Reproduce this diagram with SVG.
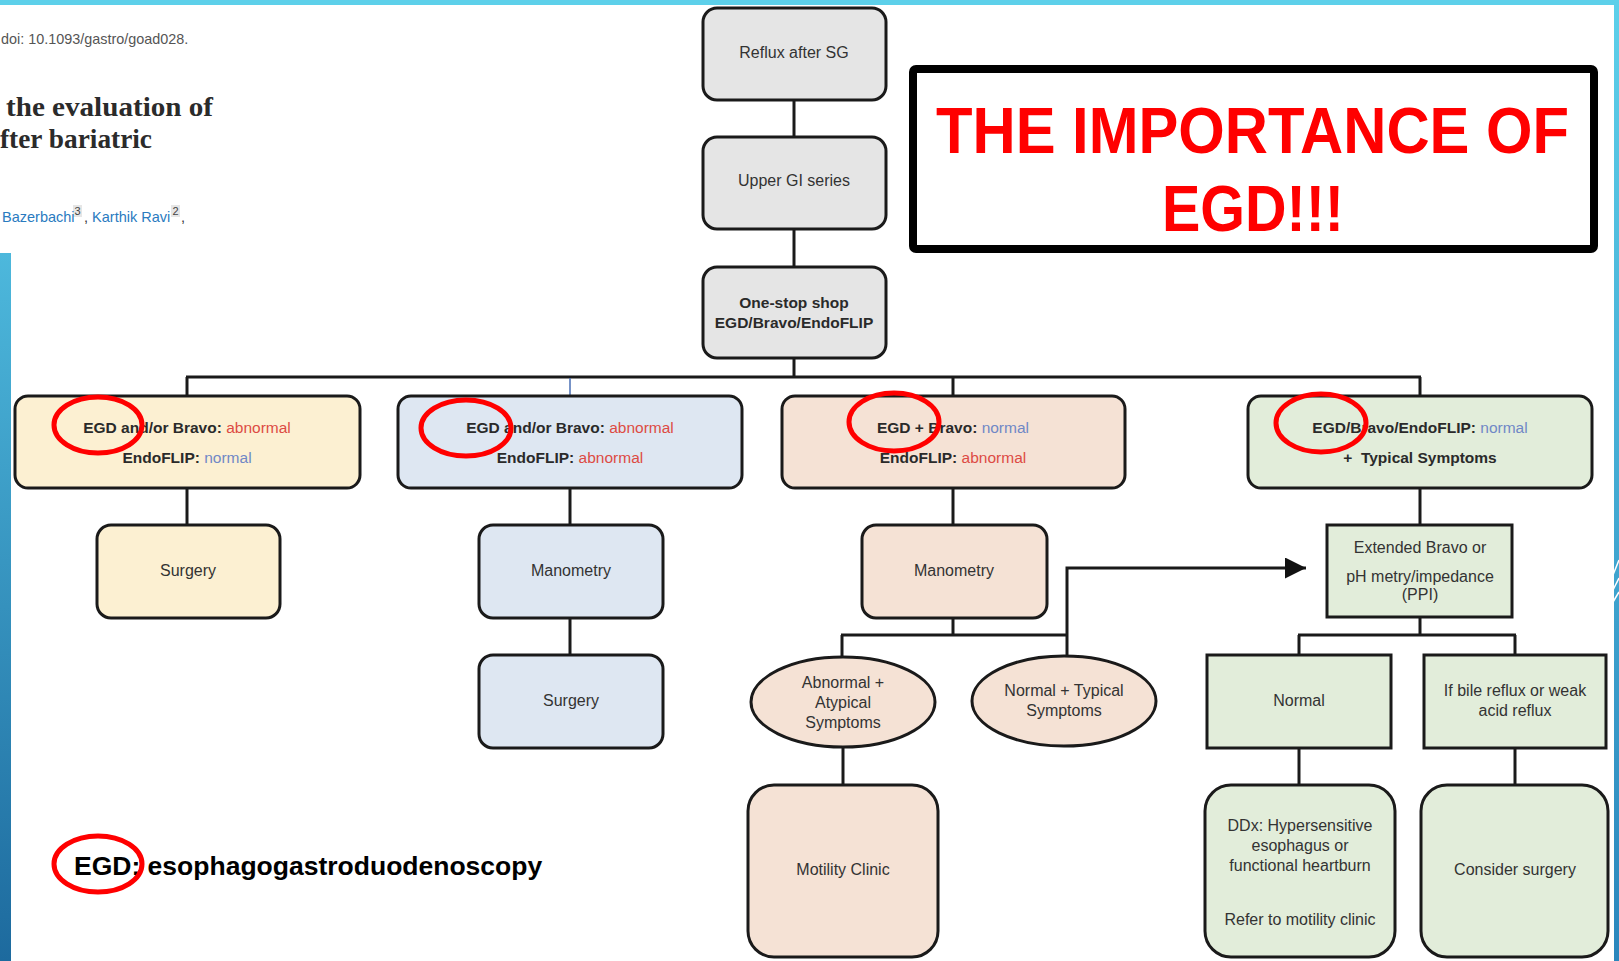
<svg xmlns="http://www.w3.org/2000/svg" width="1619" height="961" viewBox="0 0 1619 961">
<defs>
<linearGradient id="gl" x1="0" y1="0" x2="0" y2="1"><stop offset="0" stop-color="#4DB8DC"/><stop offset="1" stop-color="#1D6A9E"/></linearGradient>
<linearGradient id="gr" x1="0" y1="0" x2="0" y2="1"><stop offset="0" stop-color="#5DD0EA"/><stop offset="1" stop-color="#2A86BC"/></linearGradient>
<marker id="ah" markerWidth="7" markerHeight="7" refX="7" refY="3.5" orient="auto" markerUnits="strokeWidth"><path d="M0,0 L7,3.5 L0,7 Z" fill="#111"/></marker>
<style>
.b{stroke:#1a1a1a;stroke-width:3;}
.gray{fill:#E5E5E5;}
.yel{fill:#FCF0D2;}
.blu{fill:#DEE7F2;}
.pch{fill:#F5E2D5;}
.grn{fill:#E2EDDA;}
.t{font-family:"Liberation Sans",Arial,sans-serif;font-size:16px;fill:#333;text-anchor:middle;}
.tb{font-family:"Liberation Sans",Arial,sans-serif;font-size:15.5px;font-weight:bold;fill:#2a2a2a;text-anchor:middle;}
.red{fill:#DD4B44;font-weight:normal;}
.bl{fill:#7088C6;font-weight:normal;}
.ln{stroke:#1a1a1a;stroke-width:3;fill:none;}
.rc{fill:none;stroke:#FF0000;stroke-width:5;}
</style>
</defs>
<rect width="1619" height="961" fill="#FFFFFF"/>
<rect x="0" y="0" width="1619" height="5" fill="#5DD0EA"/>
<rect x="1614" y="0" width="5" height="961" fill="url(#gr)"/>
<g stroke="#FFFFFF" stroke-width="1.5"><line x1="1613" y1="575" x2="1619" y2="560"/><line x1="1613" y1="590" x2="1619" y2="578"/><line x1="1613" y1="602" x2="1619" y2="592"/></g>
<rect x="0" y="253" width="11" height="708" fill="url(#gl)"/>

<g id="header">
<text x="1" y="44" font-family="Liberation Sans,Arial,sans-serif" font-size="14.4" fill="#555">doi: 10.1093/gastro/goad028.</text>
<text x="6" y="116" font-family="Liberation Serif,Times New Roman,serif" font-size="28" font-weight="bold" fill="#2b2b2b" textLength="207" lengthAdjust="spacingAndGlyphs">the evaluation of</text>
<text x="0" y="148" font-family="Liberation Serif,Times New Roman,serif" font-size="28" font-weight="bold" fill="#2b2b2b" textLength="152" lengthAdjust="spacingAndGlyphs">fter bariatric</text>
<rect x="73" y="205" width="9" height="12" fill="#E6E6E6"/>
<rect x="171" y="205" width="9" height="12" fill="#E6E6E6"/>
<text x="2" y="222" font-family="Liberation Sans,Arial,sans-serif" font-size="14.5" fill="#2A7BBF">Bazerbachi<tspan x="74.5" y="215" font-size="11" fill="#444">3</tspan><tspan x="84" y="222" fill="#333">, </tspan><tspan fill="#2A7BBF">Karthik Ravi</tspan><tspan x="172.5" y="215" font-size="11" fill="#444">2</tspan><tspan x="181" y="222" fill="#333">,</tspan></text>
</g>

<g id="title">
<rect x="913" y="69" width="681" height="180" rx="3" fill="#FFFFFF" stroke="#000" stroke-width="8"/>
<text x="936" y="153" font-family="Liberation Sans,Arial,sans-serif" font-size="64" font-weight="bold" fill="#FF0000" textLength="633" lengthAdjust="spacingAndGlyphs">THE IMPORTANCE OF</text>
<text x="1162" y="231" font-family="Liberation Sans,Arial,sans-serif" font-size="64" font-weight="bold" fill="#FF0000" textLength="182" lengthAdjust="spacingAndGlyphs">EGD!!!</text>
</g>

<g id="connectors">
<line class="ln" x1="794" y1="100" x2="794" y2="137"/>
<line class="ln" x1="794" y1="229" x2="794" y2="267"/>
<line class="ln" x1="794" y1="358" x2="794" y2="377"/>
<line class="ln" x1="186" y1="377" x2="1421" y2="377"/>
<line class="ln" x1="187" y1="377" x2="187" y2="396"/>
<line x1="570" y1="378" x2="570" y2="396" stroke="#4A6FB5" stroke-width="1.5"/>
<line class="ln" x1="953" y1="377" x2="953" y2="396"/>
<line class="ln" x1="1420" y1="377" x2="1420" y2="396"/>
<line class="ln" x1="187" y1="488" x2="187" y2="525"/>
<line class="ln" x1="570" y1="488" x2="570" y2="525"/>
<line class="ln" x1="570" y1="618" x2="570" y2="655"/>
<line class="ln" x1="953" y1="488" x2="953" y2="525"/>
<line class="ln" x1="953" y1="618" x2="953" y2="635"/>
<line class="ln" x1="841" y1="635" x2="1068" y2="635"/>
<line class="ln" x1="842" y1="635" x2="842" y2="657"/>
<line class="ln" x1="1067" y1="635" x2="1067" y2="656"/>
<path class="ln" d="M1067,635 L1067,568 L1306,568" marker-end="url(#ah)"/>
<line class="ln" x1="1420" y1="488" x2="1420" y2="525"/>
<line class="ln" x1="1420" y1="618" x2="1420" y2="635"/>
<line class="ln" x1="1298" y1="635" x2="1516" y2="635"/>
<line class="ln" x1="1299" y1="635" x2="1299" y2="655"/>
<line class="ln" x1="1515" y1="635" x2="1515" y2="655"/>
<line class="ln" x1="843" y1="747" x2="843" y2="785"/>
<line class="ln" x1="1299" y1="748" x2="1299" y2="785"/>
<line class="ln" x1="1515" y1="748" x2="1515" y2="785"/>
</g>

<g id="n-reflux"><rect class="b gray" x="703" y="8" width="183" height="92" rx="14"/><text class="t" x="794" y="58">Reflux after SG</text></g>
<g id="n-ugi"><rect class="b gray" x="703" y="137" width="183" height="92" rx="14"/><text class="t" x="794" y="186">Upper GI series</text></g>
<g id="n-onestop"><rect class="b gray" x="703" y="267" width="183" height="91" rx="14"/><text class="tb" x="794" y="308">One-stop shop</text><text class="tb" x="794" y="328">EGD/Bravo/EndoFLIP</text></g>

<g id="n-a1"><rect class="b yel" x="15" y="396" width="345" height="92" rx="13"/><text class="tb" x="187" y="433">EGD and/or Bravo: <tspan class="red">abnormal</tspan></text><text class="tb" x="187" y="463">EndoFLIP: <tspan class="bl">normal</tspan></text></g>
<g id="n-b1"><rect class="b blu" x="398" y="396" width="344" height="92" rx="13"/><text class="tb" x="570" y="433">EGD and/or Bravo: <tspan class="red">abnormal</tspan></text><text class="tb" x="570" y="463">EndoFLIP: <tspan class="red">abnormal</tspan></text></g>
<g id="n-c1"><rect class="b pch" x="782" y="396" width="343" height="92" rx="13"/><text class="tb" x="953" y="433">EGD + Bravo: <tspan class="bl">normal</tspan></text><text class="tb" x="953" y="463">EndoFLIP: <tspan class="red">abnormal</tspan></text></g>
<g id="n-d1"><rect class="b grn" x="1248" y="396" width="344" height="92" rx="13"/><text class="tb" x="1420" y="433">EGD/Bravo/EndoFLIP: <tspan class="bl">normal</tspan></text><text class="tb" x="1420" y="463">+&#160;&#160;Typical Symptoms</text></g>

<g id="n-a2"><rect class="b yel" x="97" y="525" width="183" height="93" rx="14"/><text class="t" x="188" y="576">Surgery</text></g>
<g id="n-b2"><rect class="b blu" x="479" y="525" width="184" height="93" rx="14"/><text class="t" x="571" y="576">Manometry</text></g>
<g id="n-b3"><rect class="b blu" x="479" y="655" width="184" height="93" rx="14"/><text class="t" x="571" y="706">Surgery</text></g>
<g id="n-c2"><rect class="b pch" x="862" y="525" width="185" height="93" rx="14"/><text class="t" x="954" y="576">Manometry</text></g>
<g id="n-d2"><rect class="b grn" x="1327" y="525" width="185" height="92"/><text class="t" x="1420" y="553">Extended Bravo or</text><text class="t" x="1420" y="582">pH metry/impedance</text><text class="t" x="1420" y="600">(PPI)</text></g>

<g id="n-c3a"><ellipse class="b pch" cx="843" cy="702" rx="92" ry="45"/><text class="t" x="843" y="688">Abnormal +</text><text class="t" x="843" y="708">Atypical</text><text class="t" x="843" y="728">Symptoms</text></g>
<g id="n-c3b"><ellipse class="b pch" cx="1064" cy="701" rx="92" ry="45"/><text class="t" x="1064" y="696">Normal + Typical</text><text class="t" x="1064" y="716">Symptoms</text></g>
<g id="n-d3a"><rect class="b grn" x="1207" y="655" width="184" height="93"/><text class="t" x="1299" y="706">Normal</text></g>
<g id="n-d3b"><rect class="b grn" x="1424" y="655" width="182" height="93"/><text class="t" x="1515" y="696">If bile reflux or weak</text><text class="t" x="1515" y="716">acid reflux</text></g>

<g id="n-c4"><rect class="b pch" x="748" y="785" width="190" height="172" rx="26"/><text class="t" x="843" y="875">Motility Clinic</text></g>
<g id="n-d4a"><rect class="b grn" x="1205" y="785" width="190" height="172" rx="26"/><text class="t" x="1300" y="831">DDx: Hypersensitive</text><text class="t" x="1300" y="851">esophagus or</text><text class="t" x="1300" y="871">functional heartburn</text><text class="t" x="1300" y="925">Refer to motility clinic</text></g>
<g id="n-d4b"><rect class="b grn" x="1421" y="785" width="187" height="172" rx="26"/><text class="t" x="1515" y="875">Consider surgery</text></g>

<g id="legend"><text x="74" y="875" font-family="Liberation Sans,Arial,sans-serif" font-size="26.5" font-weight="bold" fill="#000">EGD: esophagogastroduodenoscopy</text></g>

<g id="highlights">
<ellipse class="rc" cx="98" cy="425" rx="44" ry="28"/>
<ellipse class="rc" cx="466" cy="428" rx="45" ry="28"/>
<ellipse class="rc" cx="894" cy="422" rx="45" ry="29"/>
<ellipse class="rc" cx="1321" cy="423" rx="45" ry="29"/>
<ellipse class="rc" cx="98" cy="864" rx="44" ry="28"/>
</g>
</svg>
